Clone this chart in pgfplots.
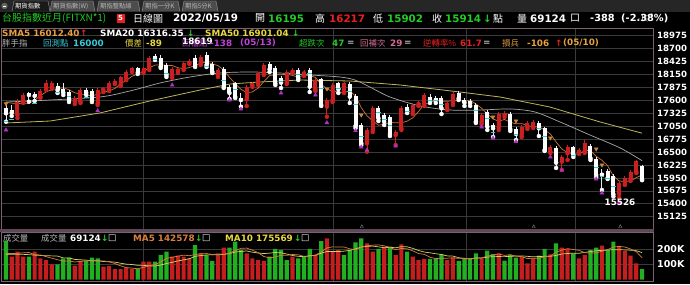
\documentclass[border=0pt]{standalone}
\usepackage{fontspec}
\usepackage{pgfplots}
\usepackage{pgfplotstable}
\pgfplotsset{compat=1.18}
\setmainfont{DejaVu Sans}
\newfontfamily\cjk{Noto Sans CJK TC}
\newfontfamily\dv{DejaVu Sans}
\definecolor{cred}{HTML}{CC2020}
\definecolor{vred}{HTML}{C41E1E}
\definecolor{vgreen}{HTML}{22B022}
\definecolor{gridc}{HTML}{3A3A3A}
\definecolor{bordc}{HTML}{7A6272}
\definecolor{sepc}{HTML}{5E4858}
\definecolor{smaf}{HTML}{C87838}
\definecolor{smat}{HTML}{A8A8A8}
\definecolor{smaff}{HTML}{BEB65A}
\definecolor{tgreen}{HTML}{22CC22}
\definecolor{tred}{HTML}{E82020}
\definecolor{tcyan}{HTML}{38C8D8}
\definecolor{tyellow}{HTML}{E8D840}
\definecolor{tmag}{HTML}{C040D8}
\definecolor{tpink}{HTML}{D86C98}
\definecolor{torange}{HTML}{E8A040}
\definecolor{tgrey}{HTML}{B8B8B8}
\definecolor{cyanm}{HTML}{30D0D0}
\definecolor{purpm}{HTML}{B030C8}
\definecolor{vmaf}{HTML}{D8803C}
\definecolor{vmat}{HTML}{D8D060}

\pgfplotstableread{
i o h l c
0 17430 17501 17145 17324
1 17394 17501 17267 17337
2 17288 17628 17224 17571
3 17571 17756 17543 17713
4 17750 17784 17571 17713
5 17728 17777 17586 17692
6 17677 17841 17650 17805
7 17856 18032 17820 17975
8 17890 18011 17841 17962
9 17911 17969 17756 17820
10 17835 17969 17713 17762
11 17784 17820 17564 17607
12 17571 17692 17522 17656
13 17571 17862 17543 17820
14 17820 17862 17713 17762
15 17805 17841 17564 17607
16 17537 17862 17501 17820
17 17820 17884 17777 17856
18 17835 18011 17798 17962
19 17975 18054 17947 18018
20 17926 18117 17905 18090
21 18069 18245 18032 18209
22 18230 18309 18203 18281
23 18281 18309 18160 18196
24 18209 18309 18181 18281
25 18281 18543 18245 18494
26 18543 18585 18458 18494
27 18494 18564 18288 18315
28 18351 18394 18096 18139
29 18117 18309 18075 18260
30 18230 18288 18181 18260
31 18281 18415 18245 18388
32 18400 18479 18373 18443
33 18494 18564 18309 18351
34 18388 18564 18351 18528
35 18564 18619 18309 18351
36 18373 18415 18181 18209
37 18139 18288 18096 18245
38 18260 18309 17862 17890
39 17884 17926 17628 17756
40 17962 17990 17650 17677
41 17643 17756 17464 17607
42 17622 17926 17479 17890
43 17926 17990 17884 17962
44 17962 18203 17926 18175
45 18175 18394 18139 18351
46 18373 18415 18203 18260
47 18281 18330 17926 17962
48 18069 18117 17862 17975
49 17975 18245 17947 18209
50 18209 18288 18181 18245
51 18245 18288 18032 18069
52 18175 18245 18117 18209
53 18245 18288 17777 17890
54 17835 18075 17798 18032
55 18047 18075 17479 17501
56 17464 17650 17252 17607
57 17607 17969 17564 17926
58 17962 17990 17756 17835
59 17784 17990 17756 17962
60 17947 17990 17543 17677
61 17692 17735 17011 17054
62 17075 17118 16650 16686
63 16686 17011 16507 16969
64 16969 17479 16926 17430
65 17430 17479 17160 17218
66 17288 17330 17075 17145
67 17252 17288 16841 16884
68 16863 16969 16650 16933
69 17005 17479 16969 17430
70 17464 17522 17330 17394
71 17358 17543 17309 17501
72 17522 17586 17479 17550
73 17522 17756 17479 17713
74 17677 17735 17543 17607
75 17643 17692 17543 17607
76 17643 17692 17309 17430
77 17430 17586 17394 17550
78 17537 17777 17501 17735
79 17750 17798 17607 17643
80 17607 17650 17479 17550
81 17586 17628 17479 17537
82 17501 17543 17118 17145
83 17145 17330 17096 17288
84 17358 17394 16969 17039
85 17075 17118 16820 17005
86 17026 17352 16969 17309
87 17288 17373 17245 17324
88 17309 17352 16948 16984
89 16984 17033 16756 16884
90 16862 17075 16820 17026
91 17026 17160 16990 17124
92 17039 17181 17011 17145
93 17111 17160 16841 17005
94 17005 17033 16522 16544
95 16507 16650 16480 16601
96 16580 16629 16161 16273
97 16295 16437 16118 16401
98 16473 16650 16331 16614
99 16601 16629 16395 16437
100 16507 16586 16458 16544
101 16507 16756 16480 16686
102 16629 16671 16331 16367
103 16345 16394 15969 16011
104 16054 16133 15693 16018
105 16090 16133 15926 15947
106 15990 16032 15556 15600
107 15607 15884 15526 15847
108 15840 15990 15799 15947
109 15920 16118 15884 16082
110 16082 16331 16054 16302
111 16195 16217 15902 15914
}\candles

\pgfplotstableread{
i v
0 17560
1 17540
2 17530
3 17540
4 17532
5 17605
6 17699
7 17780
8 17829
9 17851
10 17865
11 17825
12 17761
13 17733
14 17721
15 17690
16 17733
17 17773
18 17801
19 17853
20 17949
21 18027
22 18112
23 18159
24 18211
25 18292
26 18349
27 18356
28 18345
29 18340
30 18294
31 18272
32 18298
33 18340
34 18394
35 18412
36 18376
37 18337
38 18245
39 18090
40 17955
41 17835
42 17764
43 17778
44 17862
45 17997
46 18128
47 18142
48 18145
49 18151
50 18130
51 18092
52 18141
53 18124
54 18089
55 17940
56 17848
57 17791
58 17780
59 17766
60 17801
61 17691
62 17443
63 17270
64 17163
65 17071
66 17090
67 17129
68 17122
69 17122
70 17157
71 17228
72 17362
73 17518
74 17553
75 17596
76 17581
77 17581
78 17586
79 17593
80 17582
81 17603
82 17522
83 17433
84 17312
85 17203
86 17157
87 17193
88 17132
89 17101
90 17105
91 17068
92 17033
93 17037
94 16969
95 16884
96 16714
97 16565
98 16487
99 16465
100 16454
101 16536
102 16530
103 16409
104 16325
105 16206
106 15989
107 15885
108 15872
109 15885
110 15956
111 16012
}\smafive

\pgfplotstableread{
i v
0 17564
7.7 17607
16.4 17671
21.6 17798
26.9 17969
32.1 18096
37.3 18181
42.6 18203
47.8 18181
53.1 18139
58.3 18096
60.9 18032
63.5 17884
67 17671
72.3 17480
77.5 17394
82.7 17394
88 17416
92.3 17352
96.7 17139
101.9 16863
107.2 16586
111 16316
}\smatwenty

\pgfplotstableread{
i v
0 17118
7.7 17160
16.4 17331
25.1 17586
33.9 17820
39.1 17947
44.3 17990
51.3 18032
60 18011
68.8 17926
79.2 17777
86.2 17671
94.9 17458
103.7 17139
111 16901
}\smafifty

\pgfplotstableread{
i v up
0 252 0
1 150 1
2 183 1
3 150 1
4 150 0
5 183 1
6 139 1
7 128 1
8 100 1
9 100 0
10 139 0
11 143 0
12 91 1
13 122 1
14 122 0
15 143 0
16 139 0
17 85 1
18 89 1
19 69 1
20 69 1
21 78 1
22 69 1
23 69 0
24 117 1
25 117 1
26 117 0
27 161 0
28 183 0
29 150 1
30 156 1
31 150 1
32 139 1
33 226 0
34 172 1
35 161 0
36 122 0
37 161 1
38 209 1
39 209 0
40 248 0
41 193 0
42 172 1
43 139 1
44 128 1
45 122 1
46 150 0
47 200 0
48 193 0
49 128 0
50 150 1
51 139 0
52 150 0
53 200 0
54 161 1
55 252 0
56 270 1
57 187 1
58 193 1
59 161 0
60 193 0
61 244 0
62 270 0
63 237 1
64 183 1
65 200 0
66 215 1
67 215 0
68 161 1
69 230 1
70 183 0
71 150 1
72 128 1
73 135 1
74 135 0
75 135 0
76 165 0
77 128 1
78 146 1
79 122 0
80 135 0
81 135 0
82 172 0
83 139 1
84 189 0
85 167 0
86 172 1
87 124 0
88 161 0
89 143 0
90 150 1
91 106 1
92 139 1
93 156 0
94 200 0
95 165 1
96 237 0
97 209 1
98 200 1
99 172 0
100 139 1
101 161 1
102 193 0
103 209 0
104 222 1
105 193 0
106 248 0
107 215 1
108 187 1
109 156 1
110 106 1
111 69 0
}\vol

\pgfplotstableread{
i a b
0 170 165
1 170 165
2 172 165
3 175 165
4 177 163
5 163 160
6 161 158
7 150 156
8 140 155
9 130 153.5
10 121 142
11 122 141.5
12 115 132
13 119 129.5
14 123 127
15 124 123
16 123 123
17 122 118
18 116 117
19 105 114
20 90 107
21 78 101
22 75 98.5
23 71 93
24 80 93
25 90 90
26 98 88
27 116 95.5
28 139 105
29 146 113
30 153 122
31 160 129
32 156 136
33 164 152
34 169 157
35 170 161.5
36 164 162
37 168 162
38 165 165
39 172 170.5
40 190 180
41 204 184
42 206 187
43 192 179
44 176 174
45 151 170
46 142 173
47 148 177
48 159 175
49 159 167
50 164 157.5
51 162 152
52 152 150
53 153 156
54 160 159
55 180 172
56 207 184
57 214 183
58 213 183
59 213 186
60 201 191
61 196 201
62 212 213
63 221 217
64 225 219
65 227 214
66 221 208
67 210 211
68 195 208
69 204 215
70 201 214
71 188 204
72 170 190
73 165 180
74 146 175
75 137 169
76 140 164
77 140 155
78 142 153.5
79 139 143
80 139 138
81 133 136
82 142 141
83 141 141
84 154 147
85 160 150
86 168 150.5
87 158 150
88 163 152
89 153 154
90 150 155
91 137 152
92 140 149
93 139 151
94 150 152
95 153 152
96 179 158
97 193 167
98 202 170.5
99 197 173
100 191 172
101 176 178
102 173 183
103 175 188.5
104 185 191
105 196 193.5
106 213 195
107 217 195
108 213 194
109 200 192
110 182 189
111 143 176
}\volma

\pgfplotsset{panel/.style={
  scale only axis, anchor=south west,
  xmin=-0.785, xmax=113.0,
  axis line style={draw=bordc, line width=0.8pt},
  xtick={23.9,57.07,80.28,99.3}, xticklabels={},
  xmajorgrids, ymajorgrids,
  grid style={draw=gridc, line width=0.6pt},
  major tick length=0pt, tick style={draw=none},
  yticklabel pos=right,
  yticklabel style={anchor=west, inner sep=0pt, xshift=3.5pt, text=white},
  clip=true}}

\begin{document}
\begin{tikzpicture}[x=1pt,y=1pt,
  t/.style={anchor=west, inner sep=0pt},
  nb/.style={font=\dv\bfseries\fontsize{8.8}{9}\selectfont},
  nbl/.style={font=\dv\bfseries\fontsize{10.3}{11}\selectfont},
  ck/.style={font=\cjk\fontsize{8.4}{9}\selectfont},
  ckl/.style={font=\cjk\fontsize{10}{11}\selectfont}]
\useasboundingbox (0,0) rectangle (690,284);
\fill[black] (0,0) rectangle (690,284);

% ---------- price panel ----------
\begin{axis}[panel, at={(1.5pt,55pt)}, width=652pt, height=201pt,
  ymin=14863, ymax=19138.4,
  ytick={15125,15400,15675,15950,16225,16500,16775,17050,17325,17600,17875,18150,18425,18700,18975},
  yticklabels={15125,15400,15675,15950,16225,16500,16775,17050,17325,17600,17875,18150,18425,18700,18975},
  yticklabel style={font=\dv\bfseries\fontsize{8.6}{9}\selectfont}]
\addplot[smaff, line width=0.8pt, mark=none] table[x=i,y=v]{\smafifty};
\addplot[smat, line width=0.7pt, mark=none, smooth] table[x=i,y=v]{\smatwenty};
\addplot[smaf, line width=0.7pt, mark=none] table[x=i,y=v]{\smafive};
% wicks
\addplot[cred, only marks, mark=none,
  restrict expr to domain={\thisrow{c}-\thisrow{o}}{0:100000},
  error bars/.cd, y dir=plus, y explicit, error mark=none,
  error bar style={line width=0.9pt, draw=cred}]
  table[x=i, y=l, y error plus expr=\thisrow{h}-\thisrow{l}]{\candles};
\addplot[white, only marks, mark=none,
  restrict expr to domain={\thisrow{c}-\thisrow{o}}{-100000:0},
  error bars/.cd, y dir=plus, y explicit, error mark=none,
  error bar style={line width=0.9pt, draw=white!85!gray}]
  table[x=i, y=l, y error plus expr=\thisrow{h}-\thisrow{l}]{\candles};
% bodies
\addplot[cred, only marks, mark=none,
  restrict expr to domain={\thisrow{c}-\thisrow{o}}{0:100000},
  error bars/.cd, y dir=plus, y explicit, error mark=none,
  error bar style={line width=4pt, draw=cred}]
  table[x=i, y=o, y error plus expr=\thisrow{c}-\thisrow{o}]{\candles};
\addplot[white, only marks, mark=none,
  restrict expr to domain={\thisrow{c}-\thisrow{o}}{-100000:0},
  error bars/.cd, y dir=plus, y explicit, error mark=none,
  error bar style={line width=4pt, draw=white}]
  table[x=i, y=c, y error plus expr=\thisrow{o}-\thisrow{c}]{\candles};
% cyan ticks
\addplot[only marks, mark=-, mark size=2.4pt, mark options={draw=cyanm, line width=1pt}] coordinates {
(0,17139) (1,17196) (5,17528) (9,17762) (11,17677) (14,17650) (26,18458) (28,18181) (35,18315) (38,18032)
(40,17820) (48,17996) (51,18139) (53,18181) (55,17862) (58,17862) (60,17784) (61,17501) (62,16826) (65,17331)
(66,17182) (67,17075) (70,17358) (74,17592) (75,17592) (76,17501) (82,17394) (84,17203) (85,16905) (89,16863)
(93,17011) (94,16826) (99,16437) (103,16161) (104,15976) (105,15927) (106,15763)};
% purple up triangles
\addplot[only marks, mark=triangle*, mark size=2.2pt, mark options={fill=purpm, draw=purpm}] coordinates {
(0,16969) (16,17379) (29,17926) (39,17607) (41,17416) (48,17756) (54,17713) (56,17124) (61,16954) (62,16607)
(63,16544) (68,16629) (83,17033) (85,16799) (89,16720) (95,16395) (97,16118) (103,15927) (104,15629) (107,15423)};
% orange down triangles
\addplot[only marks, mark=triangle*, mark size=2.2pt, mark options={fill=torange!85!black, draw=torange!85!black, rotate=180}] coordinates {
(0,17528) (56,17841) (62,17288) (85,17245) (89,17160) (95,16799) (103,16565) (104,16224)};
% carets
\addplot[only marks, mark=triangle, mark size=1.8pt, mark options={draw=gray}] coordinates {(62.1,14915) (92.1,14915) (107.2,14915)};
\end{axis}

\fill[sepc] (0,52) rectangle (653.5,55);

% ---------- volume panel ----------
\begin{axis}[panel, at={(1.5pt,2.5pt)}, width=652pt, height=49.5pt,
  ymin=-12.4, ymax=311,
  ytick={100,200}, yticklabels={100K,200K},
  yticklabel style={font=\dv\bfseries\fontsize{9.5}{10}\selectfont}]
\addplot[ybar, bar width=4.2pt, bar shift=0pt, fill=vred, draw=none,
  restrict expr to domain={\thisrow{up}}{0.5:1.5}] table[x=i,y=v]{\vol};
\addplot[ybar, bar width=4.2pt, bar shift=0pt, fill=vgreen, draw=none,
  restrict expr to domain={\thisrow{up}}{-0.5:0.5}] table[x=i,y=v]{\vol};
\addplot[vmat, line width=0.7pt, mark=none] table[x=i,y=b]{\volma};
\addplot[vmaf, line width=0.7pt, mark=none] table[x=i,y=a]{\volma};
\end{axis}

% ---------- tabs ----------
\fill[black!85] (0,272) rectangle (690,284);
\fill[black!60] (4.5,278) circle (3.2);
\draw[white] (2.8,278) -- (6.2,278);
\foreach \a/\b/\f in {12/50/black!90, 50/95/black!70, 97/140/black!70, 142/180/black!70, 182/218/black!70}{
  \filldraw[fill=\f, draw=gray!80, line width=0.4pt] (\a,272.5) -- (\a+2,283) -- (\b-2,283) -- (\b,272.5);
}
\node[t, font=\cjk\fontsize{6.3}{7}\selectfont, text=white] at (15,277.5) {期貨指數};
\node[t, font=\cjk\fontsize{6.3}{7}\selectfont, text=tgrey] at (53,277.5) {期貨指數(W)};
\node[t, font=\cjk\fontsize{6.3}{7}\selectfont, text=tgrey] at (100,277.5) {期指整點線};
\node[t, font=\cjk\fontsize{6.3}{7}\selectfont, text=tgrey] at (145,277.5) {期指一分K};
\node[t, font=\cjk\fontsize{6.3}{7}\selectfont, text=tgrey] at (185,277.5) {期指5分K};

% ---------- title row ----------
\node[t, ckl, text=tgreen] at (2,265.7) {台股指數近月(FITXN*1)};
\node[fill=tred, text=white, inner sep=0pt, minimum width=8pt, minimum height=9pt, font=\dv\bfseries\fontsize{7}{7}\selectfont] at (120.5,265.7) {5};
\node[t, ckl, text=white] at (133,265.7) {日線圖};
\node[t, nbl, text=white] at (173,265.7) {2022/05/19};
\node[t, ckl, text=white] at (255,265.7) {開};
\node[t, nbl, text=tgreen] at (268,265.7) {16195};
\node[t, ckl, text=white] at (315,265.7) {高};
\node[t, nbl, text=tred] at (329,265.7) {16217};
\node[t, ckl, text=white] at (373,265.7) {低};
\node[t, nbl, text=tgreen] at (387,265.7) {15902};
\node[t, ckl, text=white] at (432,265.7) {收};
\node[t, nbl, text=tgreen] at (445,265.7) {15914};
\node[t, nbl, text=tgreen] at (483,265.7) {↓};
\node[t, ckl, text=white] at (493,265.7) {點};
\node[t, ckl, text=white] at (517,265.7) {量};
\node[t, nbl, text=white] at (530,265.7) {69124};
\node[t, ckl, text=white] at (570,265.7) {口};
\node[t, font=\dv\bfseries\fontsize{9.8}{11}\selectfont, text=white] at (590,265.7) {-388};
\node[t, font=\dv\bfseries\fontsize{9.8}{11}\selectfont, text=white] at (621,265.7) {(-2.38\%)};

% ---------- SMA row ----------
\node[t, nb, text=torange] at (2,250.3) {SMA5 16012.40};
\node[t, nb, text=tred] at (80,250.3) {↑};
\node[t, nb, text=white] at (100,250.3) {SMA20 16316.35};
\node[t, nb, text=tgreen] at (187,250.3) {↓};
\node[t, nb, text=tyellow] at (205,250.3) {SMA50 16901.04};
\node[t, nb, text=tgreen] at (292,250.3) {↓};

% ---------- indicator row ----------
\node[t, ck, text=tgrey] at (2,241) {胖手指};
\node[t, ck, text=tcyan] at (43,241) {回測點};
\node[t, nb, text=tcyan] at (73,241) {16000};
\node[t, ck, text=tyellow] at (125,241) {價差};
\node[t, nb, text=tyellow] at (146,241) {-89};
\node[t, ck, text=tmag] at (182,241) {回檔點};
\node[t, nb, text=white] at (182,242.3) {18619};
\node[t, nb, text=tmag] at (210,241) {-138};
\node[t, nb, text=tmag] at (240,241) {(05/13)};
\node[t, ck, text=tgreen] at (299,241) {超跌次};
\node[t, nb, text=tgreen] at (332,241) {47};
\node[t, nb, text=tgrey] at (347,241) {=};
\node[t, ck, text=tpink] at (360,241) {回補次};
\node[t, nb, text=tpink] at (390,241) {29};
\node[t, nb, text=tgrey] at (404,241) {=};
\node[t, ck, text=tred] at (423,241) {逆轉率\%};
\node[t, nb, text=tred] at (460,241) {61.7};
\node[t, nb, text=tgrey] at (483,241) {=};
\node[t, ck, text=torange] at (502,241) {損兵};
\node[t, nb, text=torange] at (527,241) {-106};
\node[t, nb, text=tred] at (555,241) {↑};
\node[t, nb, text=torange] at (563,241) {(05/10)};

% low label
\node[nb, text=white, inner sep=0pt] at (620,81.3) {15526};

% ---------- volume header ----------
\node[t, ck, text=tgrey] at (3,45.7) {成交量};
\node[t, ck, text=tgrey] at (41,45.7) {成交量};
\node[t, nb, text=white] at (70,45.7) {69124};
\node[t, nb, text=tgreen] at (101,45.7) {↓};
\node[t, nb, text=white] at (108,45.7) {□};
\node[t, nb, text=vmaf] at (133,45.7) {MA5 142578};
\node[t, nb, text=tgreen] at (195,45.7) {↓};
\node[t, nb, text=white] at (202,45.7) {□};
\node[t, nb, text=tyellow] at (225,45.7) {MA10 175569};
\node[t, nb, text=tgreen] at (294,45.7) {↓};
\node[t, nb, text=white] at (301,45.7) {□};
\end{tikzpicture}
\end{document}
